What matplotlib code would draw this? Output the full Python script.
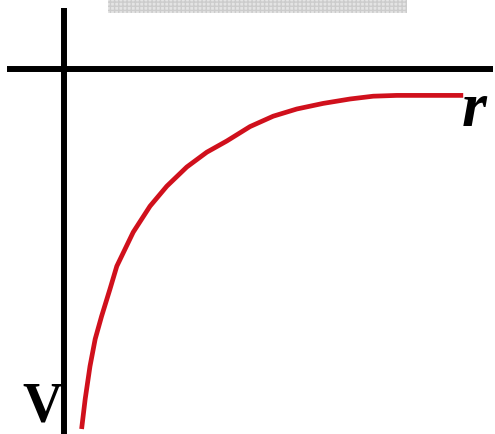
import numpy as np
import matplotlib.pyplot as plt
from matplotlib.patches import Rectangle

# potential curve V(r) (arbitrary units)
r_vals = [0.44, 0.53, 0.65, 0.78, 0.94, 1.15, 1.32, 1.73, 2.15, 2.57, 3.07,
          3.57, 4.07, 4.65, 5.23, 5.82, 6.48, 7.15, 7.73, 8.32, 9.98]
v_vals = [-9.0, -8.25, -7.43, -6.75, -6.18, -5.5, -4.93, -4.08, -3.43, -2.93,
          -2.45, -2.08, -1.8, -1.44, -1.18, -1.0, -0.86, -0.75, -0.68, -0.66,
          -0.66]

x_label = "r"
y_label = "V"


def run():
    fig = plt.figure(figsize=(4.95, 4.35), dpi=100)
    ax = fig.add_axes([0, 0, 1, 1])
    ax.set_xlim(-1.6, 10.775)
    ax.set_ylim(-9.125, 1.75)
    ax.axis('off')

    # axes drawn as thick black lines through the origin
    ax.plot([-1.425, 10.72], [0, 0], color='black', lw=4.3, solid_capstyle='butt')
    ax.plot([0, 0], [1.525, -9.125], color='black', lw=4.3, solid_capstyle='butt')

    ax.plot(r_vals, v_vals, color='#d0101c', lw=3.4, solid_capstyle='butt',
            solid_joinstyle='round')

    ax.text(9.95, -1.4, x_label, fontsize=46, fontweight='bold', style='italic',
            family='Liberation Serif', ha='left', va='baseline')
    ax.text(-0.05, -8.8, y_label, fontsize=40, fontweight='bold',
            family='Liberation Serif', ha='right', va='baseline')

    # faded grey strip at the top
    strip = Rectangle((1.1, 1.4), 7.475, 0.4, facecolor='#e4e4e4',
                      edgecolor='#cccccc', hatch='++++', lw=0)
    ax.add_patch(strip)

    plt.savefig('out.png', dpi=100)
    plt.close()


if __name__ == "__main__":
    run()
